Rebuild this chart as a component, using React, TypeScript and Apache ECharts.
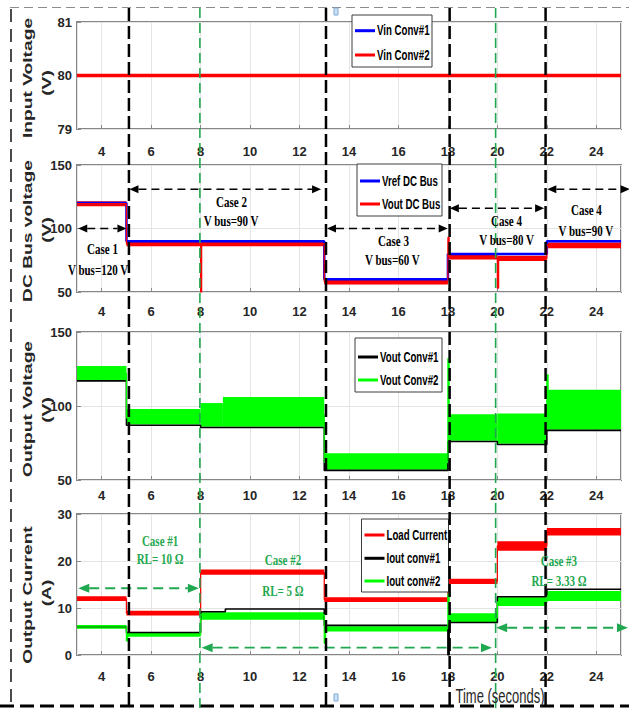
import React, { useEffect, useRef } from "react";
import * as echarts from "echarts";

type P = [number, number];
type B = [number, number, number, number];

// ---------- axes ----------
const timeMin = 3;
const timeMax = 25;
const yRanges: [number, number, number][] = [
  [79, 81, 1],
  [50, 150, 50],
  [50, 150, 50],
  [0, 30, 10],
];

// ---------- panel 1 : input voltage ----------
const vinConv1: P[] = [[3, 80], [25, 80]];
const vinConv2: P[] = [[3, 80], [25, 80]];

// ---------- panel 2 : DC bus voltage ----------
const vrefBus: P[] = [[3, 120], [5, 90], [13, 60], [18, 80], [22, 90], [25, 90]];
const voutBusTrace: P[] = [
  [3, 119.5], [5, 88], [8, 50], [8.04, 88], [13, 58], [18, 93], [18.05, 77.5],
  [20, 53], [20.05, 76.5], [22, 87], [25, 87],
];
const voutBusBand: B[] = [
  [3, 5, 117.5, 121.5], [5, 8, 86, 89.5], [8, 13, 86, 89.5], [13, 18, 56, 59.5],
  [18, 20, 75.5, 79.3], [20, 22, 74.5, 78.5], [22, 25, 84.5, 89],
];

// ---------- panel 3 : output voltage ----------
const voutConv1: P[] = [
  [3, 117], [5, 87], [8, 85.5], [13, 56.5], [18, 76], [20, 74], [22, 83.5], [25, 83.5],
];
const voutConv2Band: B[] = [
  [3, 5, 117.5, 127], [5, 8, 87.5, 98], [8, 8.9, 86, 102], [8.9, 13, 86, 106],
  [13, 18, 57, 68], [18, 20, 76.5, 94.5], [20, 22, 74.5, 95], [22, 25, 84, 111],
];
const voutConv2Trace: P[] = [
  [3, 122], [5, 92], [8, 94], [13, 62], [18, 132], [18.05, 85], [22, 121], [22.05, 97], [25, 97],
];

// ---------- panel 4 : output current ----------
const loadCurrentBand: B[] = [
  [3, 5, 11.5, 12.5], [5, 8, 8.4, 9.4], [8, 13, 17.1, 18.2], [13, 18, 11.3, 12.3],
  [18, 20, 15.1, 16.2], [20, 22, 22.2, 24.2], [22, 25, 25.4, 27],
];
const loadCurrentTrace: P[] = [
  [3, 12], [5, 8.9], [8, 17.6], [13, 11.8], [18, 15.6], [20, 23.2], [22, 26.2], [25, 26.2],
];
const ioutConv1: P[] = [
  [3, 6], [5, 4.8], [8, 9.2], [9, 9.8], [13, 6.3], [18, 0], [18.05, 6.9], [20, 12.4], [22, 14], [25, 14],
];
const ioutConv2Band: B[] = [
  [3, 5, 5.6, 6.4], [5, 8, 3.9, 4.7], [8, 13, 7.5, 9.1], [13, 18, 5, 6.1],
  [18, 20, 6.9, 8.9], [20, 22, 10.4, 12.3], [22, 25, 11.5, 13.6],
];
const ioutConv2Trace: P[] = [
  [3, 6], [5, 3], [5.05, 4.3], [8, 8.6], [13, 2.5], [13.05, 5.6], [18, 13], [18.05, 7.9],
  [20, 11.3], [22, 12.5], [25, 12.5],
];

// ---------- event markers & annotations ----------
const voltageCaseTimes = [5.1, 13.07, 18.07, 21.95];
const loadCaseTimes = [7.97, 19.93];

const busNotes: [number, number, string][] = [
  [4.03, 84, "Case 1"], [3.85, 67.3, "V bus=120 V"],
  [9.25, 121.1, "Case 2"], [9.23, 105.9, "V bus=90 V"],
  [15.8, 90.4, "Case 3"], [15.75, 75.2, "V bus=60 V"],
  [20.37, 105.9, "Case 4"], [20.37, 90.9, "V bus=80 V"],
  [23.6, 114.6, "Case 4"], [23.58, 98.5, "V bus=90 V"],
];
const busArrows: [number, number, number][] = [
  [3.05, 5.0, 100], [5.12, 12.87, 131], [13.11, 17.99, 100], [18.08, 21.89, 116], [22.02, 25.35, 131],
];
const loadNotes: [number, number, string][] = [
  [6.36, 24.3, "Case #1"], [6.36, 20.4, "RL= 10 Ω"],
  [11.33, 20.2, "Case #2"], [11.33, 13.7, "RL= 5 Ω"],
  [22.49, 20.06, "Case #3"], [22.49, 15.8, "RL= 3.33 Ω"],
];
const loadArrows: [number, number, number][] = [
  [3.05, 7.93, 14.2], [8.04, 19.78, 1.55], [19.95, 25.28, 5.8],
];

const axisTitles = [
  { text: "Input Voltage", unit: "(V)", y: 78, uy: 83 },
  { text: "DC Bus voltage", unit: "(V)", y: 231, uy: 230 },
  { text: "Output Voltage", unit: "(V)", y: 409, uy: 410 },
  { text: "Output Current", unit: "(A)", y: 595, uy: 593 },
];

// ---------- style ----------
const SANS = "'Liberation Sans', Arial, Helvetica, sans-serif";
const SERIF = "'Liberation Serif', 'Times New Roman', serif";
const RED = "#ff0000";
const BLUE = "#0000ff";
const LIME = "#00ff00";
const BLACK = "#000000";
const NOTE_GREEN = "#1fa84f";

const grids = [
  { top: 22, height: 107 },
  { top: 165, height: 127 },
  { top: 332, height: 148 },
  { top: 514, height: 141 },
];
const xLabelMargins = [16, 13, 9, 15];

const legendBoxes = [
  { x: 352, y: 15, w: 80, h: 52, rows: [30.7, 55], items: [["Vin Conv#1", BLUE], ["Vin Conv#2", RED]] },
  { x: 357, y: 164, w: 85, h: 52, rows: [181, 204], items: [["Vref DC Bus", BLUE], ["Vout DC Bus", RED]] },
  { x: 355, y: 338, w: 87, h: 54, rows: [357, 380], items: [["Vout Conv#1", BLACK], ["Vout Conv#2", LIME]] },
  {
    x: 361.5, y: 519, w: 87, h: 73, rows: [535, 558.3, 581],
    items: [["Load Current", RED], ["Iout conv#1", BLACK], ["Iout conv#2", LIME]],
  },
];

function stepLine(name: string, data: P[], color: string, width: number, gi: number) {
  return {
    type: "line",
    name,
    xAxisIndex: gi,
    yAxisIndex: gi,
    data,
    step: "end",
    symbol: "none",
    showSymbol: false,
    silent: true,
    lineStyle: { color, width },
    itemStyle: { color },
  };
}
function plainLine(name: string, data: P[], color: string, width: number, gi: number) {
  return { ...stepLine(name, data, color, width, gi), step: false };
}
function band(name: string, data: B[], color: string, gi: number) {
  return {
    type: "custom",
    name,
    xAxisIndex: gi,
    yAxisIndex: gi,
    data,
    encode: { x: [0, 1], y: [2, 3] },
    silent: true,
    itemStyle: { color },
    renderItem: (_p: any, api: any) => {
      const a = api.coord([api.value(0), api.value(3)]);
      const b = api.coord([api.value(1), api.value(2)]);
      return {
        type: "rect",
        shape: { x: a[0], y: a[1], width: b[0] - a[0], height: Math.max(1, b[1] - a[1]) },
        style: { fill: color },
      };
    },
  };
}

function buildOption() {
  return {
    animation: false,
    backgroundColor: "#ffffff",
    grid: grids.map((g) => ({
      left: 77,
      right: 8,
      top: g.top,
      height: g.height,
      show: true,
      borderColor: "#868686",
      borderWidth: 2,
      backgroundColor: "#ffffff",
    })),
    xAxis: grids.map((_, i) => ({
      type: "value",
      gridIndex: i,
      min: timeMin,
      max: timeMax,
      splitNumber: 11,
      axisLine: { show: false },
      axisTick: { show: true, inside: true, length: 4, lineStyle: { color: "#8a8a8a" } },
      splitLine: { show: true, lineStyle: { color: "#e4e4e4", width: 1 } },
      axisLabel: {
        margin: xLabelMargins[i],
        showMinLabel: false,
        showMaxLabel: false,
        fontFamily: SANS,
        fontSize: 13,
        fontWeight: "bold",
        color: "#262626",
      },
    })),
    yAxis: yRanges.map((r, i) => ({
      type: "value",
      gridIndex: i,
      min: r[0],
      max: r[1],
      interval: r[2],
      axisLine: { show: false },
      axisTick: { show: true, inside: true, length: 4, lineStyle: { color: "#8a8a8a" } },
      splitLine: { show: true, lineStyle: { color: "#e4e4e4", width: 1 } },
      axisLabel: {
        margin: 5,
        fontFamily: SANS,
        fontSize: 13,
        fontWeight: "bold",
        color: "#262626",
      },
    })),
    series: [
      plainLine("Vin Conv#1", vinConv1, BLUE, 3, 0),
      plainLine("Vin Conv#2", vinConv2, RED, 3.5, 0),

      stepLine("Vref DC Bus", vrefBus, BLUE, 2.5, 1),
      band("Vout DC Bus", voutBusBand, RED, 1),
      stepLine("Vout DC Bus", voutBusTrace, RED, 1.3, 1),

      stepLine("Vout Conv#1", voutConv1, BLACK, 1.6, 2),
      band("Vout Conv#2", voutConv2Band, LIME, 2),
      stepLine("Vout Conv#2", voutConv2Trace, LIME, 1.3, 2),

      band("Load Current", loadCurrentBand, RED, 3),
      stepLine("Load Current", loadCurrentTrace, RED, 1.3, 3),
      stepLine("Iout conv#1", ioutConv1, BLACK, 1.6, 3),
      band("Iout conv#2", ioutConv2Band, LIME, 3),
      stepLine("Iout conv#2", ioutConv2Trace, LIME, 1.3, 3),
    ],
  };
}

function arrowGraphics(p0: number[], p1: number[], color: string, width: number, dash: number[], headL: number, headW: number) {
  const y = p0[1];
  const x0 = p0[0];
  const x1 = p1[0];
  return [
    {
      type: "line", z: 12, silent: true,
      shape: { x1: x0 + headL, y1: y, x2: x1 - headL, y2: y },
      style: { stroke: color, lineWidth: width, lineDash: dash },
    },
    {
      type: "polygon", z: 12, silent: true,
      shape: { points: [[x0, y], [x0 + headL, y - headW / 2], [x0 + headL, y + headW / 2]] },
      style: { fill: color },
    },
    {
      type: "polygon", z: 12, silent: true,
      shape: { points: [[x1, y], [x1 - headL, y - headW / 2], [x1 - headL, y + headW / 2]] },
      style: { fill: color },
    },
  ];
}

export default function App() {
  const ref = useRef<HTMLDivElement>(null);
  useEffect(() => {
    if (!ref.current) return;
    const chart = echarts.init(ref.current, null, { renderer: "svg" });
    chart.setOption(buildOption() as any);

    const px = (g: number, t: number, v: number) =>
      chart.convertToPixel({ gridIndex: g } as any, [t, v]) as unknown as number[];

    const graphics: any[] = [];

    // figure frame (dashed)
    graphics.push({
      type: "line", z: 11, silent: true,
      shape: { x1: 10, y1: 7.5, x2: 629, y2: 7.5 },
      style: { stroke: "#8c8c8c", lineWidth: 1, lineDash: [9, 5] },
    });
    graphics.push({
      type: "line", z: 11, silent: true,
      shape: { x1: 11, y1: 9, x2: 11, y2: 704 },
      style: { stroke: "#111", lineWidth: 1.5, lineDash: [13, 7] },
    });
    graphics.push({
      type: "line", z: 11, silent: true,
      shape: { x1: 0, y1: 706, x2: 629, y2: 706 },
      style: { stroke: "#000", lineWidth: 3, lineDash: [14, 6] },
    });

    // legends (MATLAB style boxes)
    legendBoxes.forEach((lg) => {
      graphics.push({
        type: "rect", z: 12, silent: true,
        shape: { x: lg.x, y: lg.y, width: lg.w, height: lg.h },
        style: { fill: "#ffffff", stroke: "#3c3c3c", lineWidth: 1 },
      });
      lg.items.forEach(([name, color], i) => {
        const y = lg.rows[i];
        graphics.push({
          type: "line", z: 13, silent: true,
          shape: { x1: lg.x + 3, y1: y, x2: lg.x + 23, y2: y },
          style: { stroke: color, lineWidth: 3 },
        });
        graphics.push({
          type: "text", z: 13, silent: true, x: lg.x + 25, y, scaleX: 0.88, scaleY: 1.3,
          style: { text: name, fill: "#000", font: `bold 11px ${SANS}`, align: "left", verticalAlign: "middle" },
        });
      });
    });

    // vertical case markers across all panels
    voltageCaseTimes.forEach((t) => {
      const x = px(0, t, 80)[0];
      graphics.push({
        type: "line", z: 14, silent: true,
        shape: { x1: x, y1: 8, x2: x, y2: 709 },
        style: { stroke: "#000", lineWidth: 2.5, lineDash: [13, 5] },
      });
    });
    loadCaseTimes.forEach((t) => {
      const x = px(0, t, 80)[0];
      graphics.push({
        type: "line", z: 14, silent: true,
        shape: { x1: x, y1: 8, x2: x, y2: 709 },
        style: { stroke: NOTE_GREEN, lineWidth: 1.6, lineDash: [10, 5] },
      });
    });

    // DC bus annotations
    busArrows.forEach(([a, b, v]) => {
      graphics.push(...arrowGraphics(px(1, a, v), px(1, b, v), "#000", 1.5, [8, 5], 9, 8));
    });
    busNotes.forEach(([t, v, s]) => {
      const p = px(1, t, v);
      graphics.push({
        type: "text", z: 15, silent: true, x: p[0], y: p[1], scaleY: 1.4,
        style: { text: s, fill: "#000", font: `bold 11px ${SERIF}`, align: "center", verticalAlign: "middle" },
      });
    });

    // load annotations
    loadArrows.forEach(([a, b, v]) => {
      graphics.push(...arrowGraphics(px(3, a, v), px(3, b, v), NOTE_GREEN, 1.8, [10, 6], 11, 9));
    });
    loadNotes.forEach(([t, v, s]) => {
      const p = px(3, t, v);
      graphics.push({
        type: "text", z: 15, silent: true, x: p[0], y: p[1], scaleY: 1.4,
        style: { text: s, fill: NOTE_GREEN, font: `bold 11px ${SERIF}`, align: "center", verticalAlign: "middle" },
      });
    });

    // y-axis titles
    axisTitles.forEach((a) => {
      graphics.push({
        type: "text", z: 15, silent: true, x: 28, y: a.y, rotation: Math.PI / 2, scaleX: 1.6,
        style: { text: a.text, fill: "#262626", font: `bold 12px ${SANS}`, align: "center", verticalAlign: "middle" },
      });
      graphics.push({
        type: "text", z: 15, silent: true, x: 46.5, y: a.uy, rotation: Math.PI / 2, scaleX: 1.6,
        style: { text: a.unit, fill: "#262626", font: `bold 12px ${SANS}`, align: "center", verticalAlign: "middle" },
      });
    });

    // x-axis title
    graphics.push({
      type: "text", z: 15, silent: true, x: 500, y: 697, scaleY: 1.5,
      style: { text: "Time (seconds)", fill: "#262626", font: `13px ${SANS}`, align: "center", verticalAlign: "middle" },
    });

    // small selection handles seen in the figure
    graphics.push({
      type: "rect", z: 15, silent: true,
      shape: { x: 334, y: 8, width: 4, height: 7 },
      style: { fill: "#cfe2f5", stroke: "#7aa7d6", lineWidth: 1 },
    });
    graphics.push({
      type: "rect", z: 15, silent: true,
      shape: { x: 334, y: 694, width: 4, height: 7 },
      style: { fill: "#cfe2f5", stroke: "#7aa7d6", lineWidth: 1 },
    });

    chart.setOption({ graphic: graphics } as any);
    return () => chart.dispose();
  }, []);

  return (
    <div
      ref={ref}
      style={{ position: "absolute", left: 0, top: 0, width: 629, height: 709, background: "#fff" }}
    />
  );
}
